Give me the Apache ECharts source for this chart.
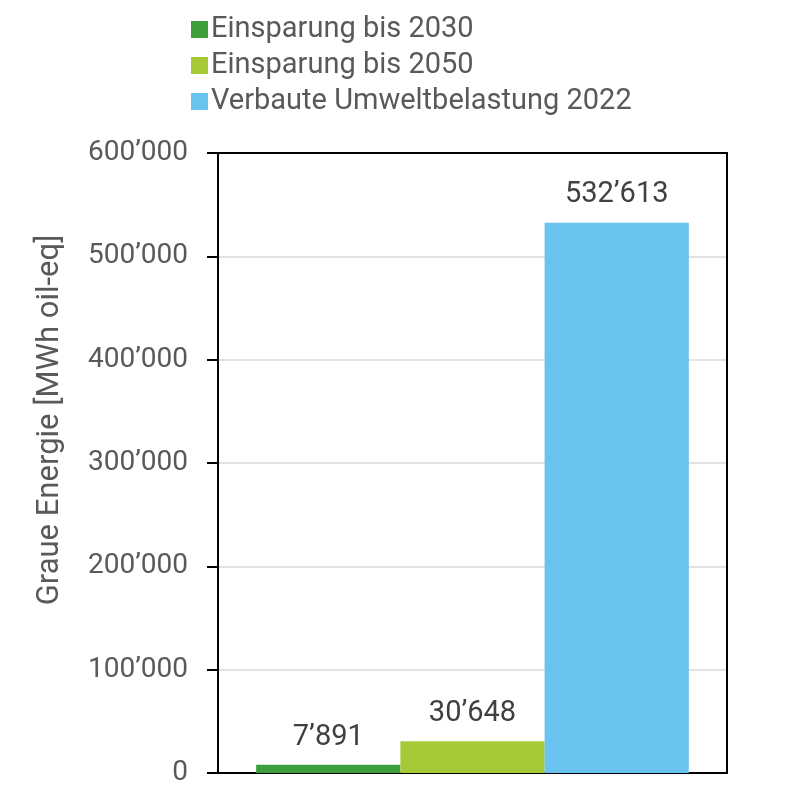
<!DOCTYPE html>
<html>
<head>
<meta charset="utf-8">
<script src="https://cdn.jsdelivr.net/npm/echarts@6/dist/echarts.min.js"></script>
<style>
  html, body { margin: 0; padding: 0; background: #fff; }
  #chart { width: 796px; height: 801px; }
</style>
</head>
<body>
<div id="chart"></div>
<script>
// Daten
const seriesNames = ['Einsparung bis 2030', 'Einsparung bis 2050', 'Verbaute Umweltbelastung 2022'];
const seriesValues = [7891, 30648, 532613];
const seriesColors = ['#3c9f3c', '#a6ca37', '#68c3ef'];
const yTicks = [0, 100000, 200000, 300000, 400000, 500000, 600000];

// 532613 -> 532’613
function fmt(v) {
  return String(v).replace(/\B(?=(\d{3})+(?!\d))/g, '\u2019');
}

const chart = echarts.init(document.getElementById('chart'));
const font = 'Roboto, "DejaVu Sans", sans-serif';

const option = {
  animation: false,
  textStyle: { fontFamily: font },
  legend: {
    orient: 'vertical',
    left: 186,
    top: 9,
    icon: 'rect',
    itemWidth: 17,
    itemHeight: 17,
    itemGap: 5,
    textStyle: { fontSize: 29, color: '#595959', lineHeight: 31, padding: [0, 0, 0, -2] },
    data: seriesNames
  },
  grid: { left: 218, right: 69, top: 153, bottom: 28 },
  xAxis: [{
    type: 'category',
    data: [''],
    axisLine: { lineStyle: { color: '#000', width: 2 } },
    axisTick: { show: false },
    axisLabel: { show: false }
  }, {
    type: 'category',
    position: 'top',
    data: [''],
    axisLine: { onZero: false, lineStyle: { color: '#000', width: 2 } },
    axisTick: { show: false },
    axisLabel: { show: false }
  }],
  yAxis: [{
    type: 'value',
    min: yTicks[0],
    max: yTicks[yTicks.length - 1],
    interval: 100000,
    name: 'Graue Energie [MWh oil-eq]',
    nameLocation: 'middle',
    nameGap: 152,
    nameTextStyle: { fontSize: 31, color: '#595959', padding: [0, 0, 0, 86] },
    axisLine: { show: true, lineStyle: { color: '#000', width: 2 } },
    axisTick: { show: true, length: 11, lineStyle: { color: '#000', width: 2 } },
    axisLabel: { fontSize: 28, color: '#595959', margin: 30, formatter: v => fmt(v) },
    splitLine: { showMaxLine: false, lineStyle: { color: '#d9d9d9', width: 1.5 } }
  }, {
    type: 'value',
    position: 'right',
    min: yTicks[0],
    max: yTicks[yTicks.length - 1],
    interval: 100000,
    axisLine: { show: true, onZero: false, lineStyle: { color: '#000', width: 2 } },
    axisTick: { show: false },
    axisLabel: { show: false },
    splitLine: { show: false }
  }],
  series: seriesNames.map((name, i) => ({
    name: name,
    type: 'bar',
    barGap: '0%',
    barCategoryGap: '15%',
    itemStyle: { color: seriesColors[i] },
    label: {
      show: true,
      position: 'top',
      distance: 13,
      fontSize: 29,
      color: '#404040',
      formatter: p => fmt(p.value)
    },
    data: [seriesValues[i]]
  }))
};

chart.setOption(option);
</script>
</body>
</html>
